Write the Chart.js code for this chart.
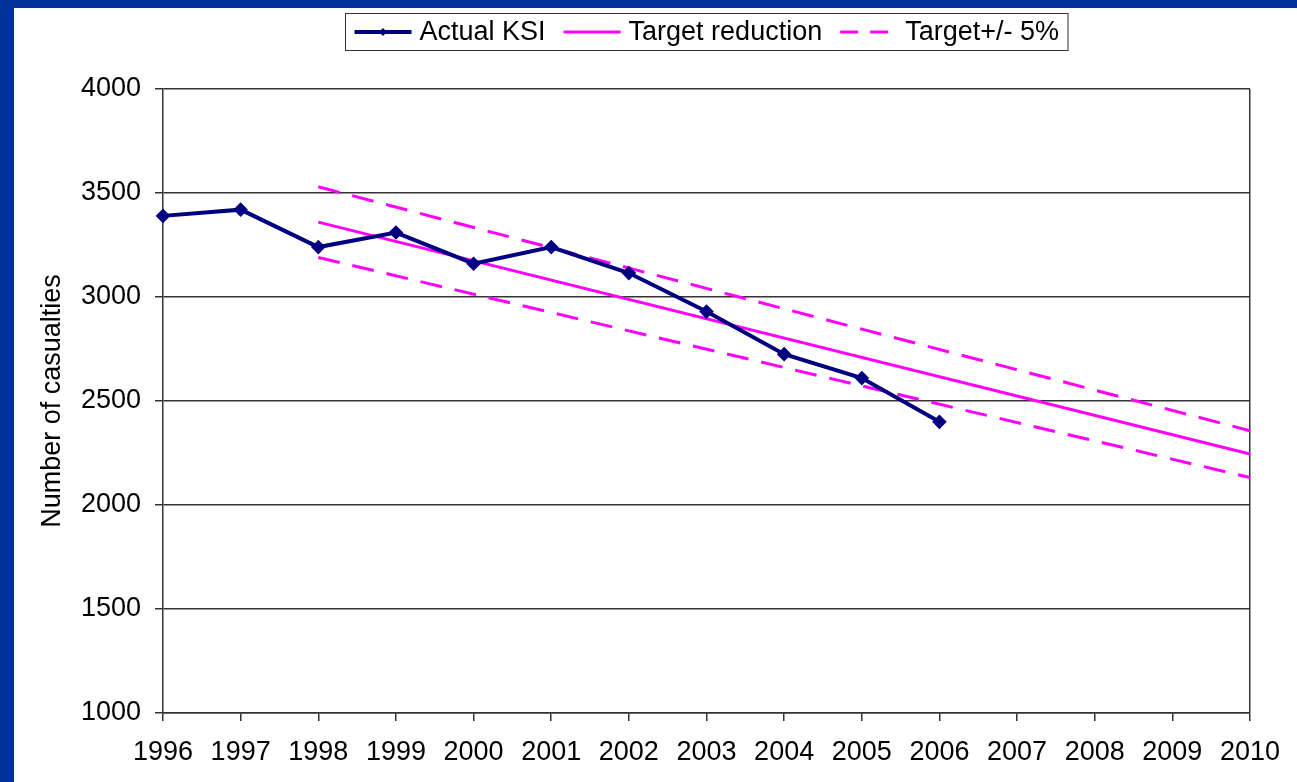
<!DOCTYPE html>
<html lang="en">
<head>
    <meta charset="UTF-8">
    <title>KSI casualties</title>
    <script src="https://cdn.jsdelivr.net/npm/chart.js@4.4.0/dist/chart.umd.min.js"></script>
    <style>
        html, body { margin: 0; padding: 0; background: #003399; overflow: hidden; }
        .panel { position: absolute; left: 14px; top: 8px; width: 1283px; height: 774px; background: #fff; }
    </style>
</head>
<body>
    <div class="panel"><canvas id="ksiChart" width="1283" height="774"></canvas></div>

    <script>
        // Data
        const years = ['1996', '1997', '1998', '1999', '2000', '2001', '2002', '2003', '2004', '2005', '2006', '2007', '2008', '2009', '2010'];
        const actualKSI = [3390, 3420, 3240, 3310, 3160, 3240, 3115, 2930, 2725, 2610, 2400, null, null, null, null];
        // Straight target line: only its end points are known from the picture
        const targetReduction = [null, null, 3360, null, null, null, null, null, null, null, null, null, null, null, 2245];
        const targetUpper = [null, null, 3530, null, null, null, null, null, null, null, null, null, null, null, 2357];
        const targetLower = [null, null, 3190, null, null, null, null, null, null, null, null, null, null, null, 2132];

        const fontFamily = '"Liberation Sans", Arial, sans-serif';
        const fontSize = 27;
        const axisColor = '#333333';
        const navy = '#000080';
        const magenta = '#ff00ff';

        // Legend in a box over the plot
        const boxLegend = {
            id: 'boxLegend',
            afterDraw(chart) {
                const ctx = chart.ctx;
                const items = [
                    { text: 'Actual KSI', color: navy, width: 4, dash: [], marker: true },
                    { text: 'Target reduction', color: magenta, width: 3, dash: [] },
                    { text: 'Target+/- 5%', color: magenta, width: 3, dash: [18, 12] }
                ];
                const sample = 57, gap = 8, itemGap = 18, pad = 9;
                ctx.save();
                ctx.font = fontSize + 'px ' + fontFamily;
                let total = pad * 2;
                items.forEach((it, i) => {
                    it.tw = ctx.measureText(it.text).width;
                    total += sample + gap + it.tw + (i < items.length - 1 ? itemGap : 0);
                });
                const area = chart.chartArea;
                const x0 = Math.round((area.left + area.right) / 2 - total / 2) + 0.5;
                const y0 = 5.5, h = 37;
                ctx.strokeStyle = axisColor;
                ctx.lineWidth = 1;
                ctx.strokeRect(x0, y0, total, h);
                const cy = y0 + h / 2;
                let x = x0 + pad;
                items.forEach(it => {
                    ctx.beginPath();
                    ctx.setLineDash(it.dash);
                    ctx.strokeStyle = it.color;
                    ctx.lineWidth = it.width;
                    ctx.moveTo(x, cy);
                    ctx.lineTo(x + sample, cy);
                    ctx.stroke();
                    ctx.setLineDash([]);
                    if (it.marker) {
                        ctx.fillStyle = it.color;
                        ctx.beginPath();
                        ctx.moveTo(x + sample / 2, cy - 4);
                        ctx.lineTo(x + sample / 2 + 4, cy);
                        ctx.lineTo(x + sample / 2, cy + 4);
                        ctx.lineTo(x + sample / 2 - 4, cy);
                        ctx.closePath();
                        ctx.fill();
                    }
                    x += sample + gap;
                    ctx.fillStyle = '#000';
                    ctx.textBaseline = 'middle';
                    ctx.fillText(it.text, x, cy + 1);
                    x += it.tw + itemGap;
                });
                ctx.restore();
            }
        };

        const ctx = document.getElementById('ksiChart').getContext('2d');
        new Chart(ctx, {
            type: 'line',
            data: {
                labels: years,
                datasets: [
                    {
                        label: 'Actual KSI',
                        data: actualKSI,
                        borderColor: navy,
                        backgroundColor: navy,
                        borderWidth: 4,
                        pointStyle: 'rectRot',
                        pointRadius: 4.5,
                        tension: 0
                    },
                    {
                        label: 'Target reduction',
                        data: targetReduction,
                        borderColor: magenta,
                        borderWidth: 3,
                        pointRadius: 0,
                        spanGaps: true
                    },
                    {
                        label: 'Target+/- 5%',
                        data: targetUpper,
                        borderColor: magenta,
                        borderWidth: 3,
                        borderDash: [22, 13],
                        pointRadius: 0,
                        spanGaps: true
                    },
                    {
                        label: 'Target lower',
                        data: targetLower,
                        borderColor: magenta,
                        borderWidth: 3,
                        borderDash: [22, 13],
                        pointRadius: 0,
                        spanGaps: true
                    }
                ]
            },
            options: {
                responsive: false,
                animation: false,
                layout: { padding: { top: 81, right: 47, left: 0, bottom: 0 } },
                plugins: {
                    legend: { display: false },
                    tooltip: { enabled: false }
                },
                scales: {
                    x: {
                        type: 'category',
                        offset: false,
                        afterFit: s => { s.height = 69; },
                        grid: {
                            drawOnChartArea: true,
                            color: c => c.index === years.length - 1 ? axisColor : 'rgba(0,0,0,0)',
                            tickColor: axisColor,
                            tickLength: 8,
                            lineWidth: 1.5
                        },
                        border: { color: axisColor, width: 1.5 },
                        ticks: {
                            color: '#000',
                            font: { family: fontFamily, size: fontSize },
                            padding: 15,
                            maxRotation: 0,
                            autoSkip: false
                        }
                    },
                    y: {
                        min: 1000,
                        max: 4000,
                        afterFit: s => { s.width = 149; },
                        grid: {
                            color: axisColor,
                            tickColor: axisColor,
                            tickLength: 8,
                            lineWidth: 1.5
                        },
                        border: { color: axisColor, width: 1.5 },
                        ticks: {
                            stepSize: 500,
                            color: '#000',
                            font: { family: fontFamily, size: fontSize },
                            padding: 14,
                            callback: v => String(v)
                        },
                        title: {
                            display: true,
                            text: 'Number of casualties',
                            color: '#000',
                            font: { family: fontFamily, size: fontSize },
                            padding: { top: 22, bottom: 0 }
                        }
                    }
                }
            },
            plugins: [boxLegend]
        });
    </script>
</body>
</html>
